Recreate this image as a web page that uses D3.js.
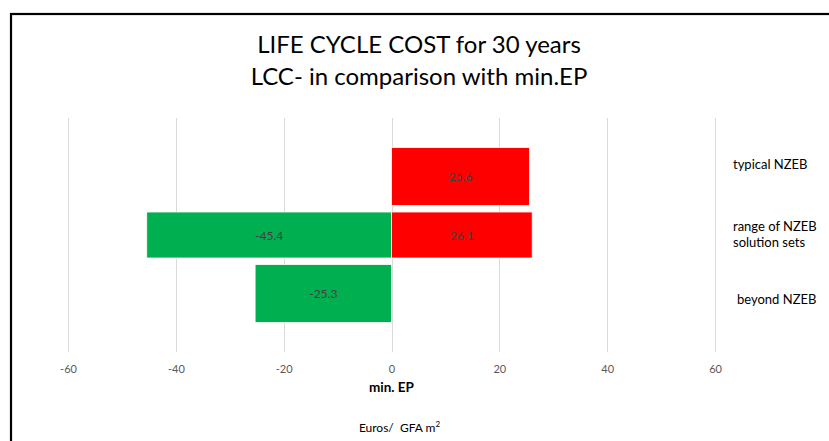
<!DOCTYPE html>
<html>
<head>
<meta charset="utf-8">
<script src="https://cdn.jsdelivr.net/npm/d3@7"></script>
<style>
  html, body { margin: 0; padding: 0; background: #fff; }
  svg { display: block; }
  text { font-family: Lato, "Open Sans", Arial, sans-serif; }
</style>
</head>
<body>
<svg id="chart" width="829" height="441"></svg>
<script>
// ---- data ----
const categories = [
  ["typical NZEB"],
  ["range of NZEB", "solution sets"],
  ["beyond NZEB"]
];
const positiveValues = [25.6, 26.1, null];   // red series
const negativeValues = [null, -45.4, -25.3]; // green series
const xTicks = [-60, -40, -20, 0, 20, 40, 60];
const titleLines = ["LIFE CYCLE COST for 30 years", "LCC- in comparison with min.EP"];
const axisTitle = "min. EP";
const unitLabel = "Euros/\u00a0 GFA m";

// ---- layout / style ----
const W = 829, H = 441;
const plot = { left: 68, right: 715, top: 118, bottom: 352 };
const RED = "#FF0000", GREEN = "#00B050";

const svg = d3.select("#chart");

// frame
svg.append("rect")
  .attr("x", 11).attr("y", 14)
  .attr("width", W + 20).attr("height", H + 20)
  .attr("fill", "none").attr("stroke", "#000").attr("stroke-width", 2.2);

// title
svg.append("g").selectAll("text").data(titleLines).join("text")
  .attr("x", 419).attr("y", (d, i) => 53 + i * 32)
  .attr("text-anchor", "middle")
  .attr("font-size", 24).attr("fill", "#000")
  .text(d => d);

const x = d3.scaleLinear().domain([-60, 60]).range([plot.left, plot.right]);
const y = d3.scalePoint().domain(d3.range(categories.length))
  .range([plot.top, plot.bottom]).padding(1);

// gridlines
svg.append("g").selectAll("line").data(xTicks).join("line")
  .attr("x1", d => Math.round(x(d)) + 0.5).attr("x2", d => Math.round(x(d)) + 0.5)
  .attr("y1", plot.top).attr("y2", plot.bottom)
  .attr("stroke", "#d9d9d9").attr("stroke-width", 1);

// tick labels via d3 axis
const axis = d3.axisBottom(x).tickValues(xTicks).tickSize(0).tickPadding(0)
  .tickFormat(d3.format("d"));
const gAxis = svg.append("g").attr("transform", `translate(0, 373)`).call(axis);
gAxis.select(".domain").remove();
gAxis.selectAll("text")
  .attr("font-size", 11).attr("fill", "#595959")
  .attr("dy", 0)
  .style("font-family", "Lato, Arial, sans-serif")
  .text(d => d < 0 ? "-" + Math.abs(d) : d);

// bar heights per row (style)
const barH = i => (i === 1 ? 46 : 58);

const rows = categories.map((c, i) => ({ i, pos: positiveValues[i], neg: negativeValues[i] }));
const bars = [];
rows.forEach(r => {
  if (r.pos != null) bars.push({ i: r.i, v: r.pos, color: RED });
  if (r.neg != null) bars.push({ i: r.i, v: r.neg, color: GREEN });
});

const gBars = svg.append("g");
gBars.selectAll("rect").data(bars).join("rect")
  .attr("x", d => x(Math.min(0, d.v)))
  .attr("width", d => Math.abs(x(d.v) - x(0)))
  .attr("y", d => y(d.i) - barH(d.i) / 2)
  .attr("height", d => barH(d.i))
  .attr("fill", d => d.color)
  .attr("stroke", "#ffffff").attr("stroke-width", 0.8);

gBars.selectAll("text").data(bars).join("text")
  .attr("x", d => (x(d.v) + x(0)) / 2)
  .attr("y", d => y(d.i) + 4.5)
  .attr("text-anchor", "middle")
  .attr("font-size", 12).attr("fill", "#404040")
  .text(d => d3.format(".1f")(d.v).replace("−", "-"));

// category labels on the right
const labelDy = [-8, -4, 10];
const labelX = [733, 733, 737];
const gCat = svg.append("g");
categories.forEach((lines, i) => {
  const t = gCat.append("text")
    .attr("x", labelX[i]).attr("y", y(i) + labelDy[i])
    .attr("font-size", 13).attr("fill", "#000");
  lines.forEach((ln, k) => {
    t.append("tspan").attr("x", labelX[i]).attr("dy", k === 0 ? 0 : 16).text(ln);
  });
});

// axis title
svg.append("text")
  .attr("x", x(0)).attr("y", 392)
  .attr("text-anchor", "middle")
  .attr("font-size", 13.5).attr("font-weight", "bold").attr("fill", "#000")
  .text(axisTitle);

// unit label
const u = svg.append("text")
  .attr("x", x(0) + 8).attr("y", 432)
  .attr("text-anchor", "middle")
  .attr("font-size", 12).attr("fill", "#000");
u.append("tspan").text(unitLabel);
u.append("tspan").attr("font-size", 8).attr("dy", -5).text("2");
</script>
</body>
</html>
